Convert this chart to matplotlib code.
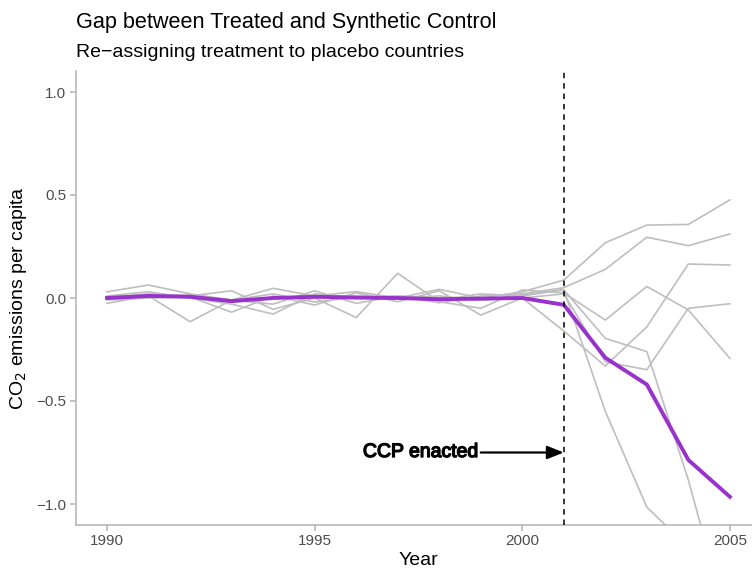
import matplotlib
matplotlib.use("Agg")
import matplotlib.pyplot as plt
import matplotlib.patheffects as pe

plt.rcParams['font.family'] = ['Liberation Sans', 'DejaVu Sans']

years = list(range(1990, 2006))

treated_gap = [0.0, 0.01, 0.006, -0.015, 0.0, 0.006, 0.002, 0.0, -0.006, -0.003, 0.0,
               -0.033, -0.29, -0.42, -0.786, -0.965]

placebo_a = [0.03, 0.063, 0.02, -0.01, 0.047, 0.01, 0.031, 0.0, 0.042, 0.0, 0.03,
             0.087, 0.268, 0.354, 0.357, 0.476]
placebo_b = [-0.026, 0.01, -0.115, -0.01, -0.03, 0.035, -0.026, 0.01, -0.023, 0.01, 0.02,
             0.05, 0.139, 0.295, 0.254, 0.311]
placebo_c = [0.0, 0.02, 0.01, 0.035, -0.055, 0.0, -0.095, 0.12, -0.018, -0.05, 0.039,
             0.025, -0.107, 0.056, -0.058, -0.293]
placebo_d = [-0.01, 0.0, 0.005, -0.069, 0.01, -0.034, 0.025, -0.018, 0.035, -0.083, 0.0,
             -0.16, -0.33, -0.14, 0.165, 0.16]
placebo_e = [0.01, 0.03, 0.0, -0.03, -0.078, 0.02, 0.0, 0.0, 0.01, -0.01, 0.0,
             0.02, -0.31, -0.348, -0.05, -0.028]
placebo_f = [0.005, 0.015, 0.0, -0.02, 0.0, 0.01, 0.01, 0.0, -0.01, 0.02, 0.01,
             0.04, -0.55, -1.015, -1.21, -1.4]
placebo_g = [-0.005, 0.005, 0.015, -0.01, 0.02, -0.02, 0.005, 0.01, 0.0, -0.01, 0.015,
             0.04, -0.196, -0.26, -0.883, -1.62]
placebos = [placebo_a, placebo_b, placebo_c, placebo_d, placebo_e, placebo_f, placebo_g]

treatment_year = 2001
x_ticks = [1990, 1995, 2000, 2005]
y_ticks = [-1.0, -0.5, 0.0, 0.5, 1.0]

fig = plt.figure(figsize=(7.52, 5.69), dpi=100)
W, H = 752, 569
left_px, right_px, top_px, bottom_px = 75.9, 761.0, 71.4, 524.6
ax = fig.add_axes([left_px / W, 1 - bottom_px / H,
                   (right_px - left_px) / W, (bottom_px - top_px) / H])

for p in placebos:
    ax.plot(years, p, color='#bebebe', lw=1.2, zorder=2)
ax.plot(years, treated_gap, color='#9932CC', lw=2.8, zorder=3)

ax.axvline(treatment_year, color='black', lw=1.1, linestyle=(0, (3.6, 3.2)), zorder=4)

ax.annotate('', xy=(treatment_year, -0.75), xytext=(1999, -0.75),
            arrowprops=dict(arrowstyle='-|>,head_length=1.0,head_width=0.4',
                            color='black', lw=1.6, shrinkA=0, shrinkB=0), zorder=5)
ax.text(1998.95, -0.75, 'CCP enacted', ha='right', va='center', fontsize=14,
        color='black', zorder=5,
        path_effects=[pe.withStroke(linewidth=1.0, foreground='black')])

ax.set_xlim(1989.25, 2005.75)
ax.set_ylim(-1.1, 1.1)
ax.set_xticks(x_ticks)
ax.set_xticklabels([str(v) for v in x_ticks])
ax.set_yticks(y_ticks)
ax.set_yticklabels([f'{v:.1f}'.replace('-', '\u2212') for v in y_ticks])

for s in ['top', 'right']:
    ax.spines[s].set_visible(False)
for s in ['left', 'bottom']:
    ax.spines[s].set_color('#b3b3b3')
    ax.spines[s].set_linewidth(1.1)
ax.tick_params(axis='both', colors='#b3b3b3', width=1.1, length=4, labelsize=11,
               labelcolor='#4d4d4d', pad=3)

ax.set_xlabel('Year', fontsize=14, color='black', labelpad=3)
ax.set_ylabel('CO$_2$ emissions per capita', fontsize=14, color='black', labelpad=5)

fig.text(left_px / W, 1 - 28 / H, 'Gap between Treated and Synthetic Control',
         fontsize=15.6, ha='left', va='baseline', color='black')
fig.text(left_px / W, 1 - 57 / H, 'Re\u2212assigning treatment to placebo countries',
         fontsize=14, ha='left', va='baseline', color='black')

fig.savefig('out.png', dpi=100)
